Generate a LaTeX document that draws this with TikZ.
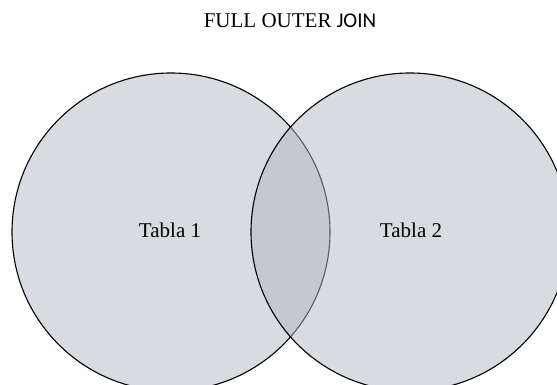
\documentclass[tikz,border=0pt]{standalone}
\usepackage{fontspec}
\setmainfont{Liberation Serif}
\newfontfamily\carlitofont{Carlito}
\definecolor{vennfill}{RGB}{179,185,193}
\tikzset{
  venn/.style={draw=black, line width=1.1pt, fill=vennfill, fill opacity=0.5, draw opacity=1},
  lbl/.style={font=\fontsize{21}{25}\selectfont, anchor=base, inner sep=0pt}
}
\begin{document}
\begin{tikzpicture}[x=1pt,y=1pt]
  \useasboundingbox (0,0) rectangle (557,385);
  \clip (0,0) rectangle (557,385);
  \fill[white] (0,0) rectangle (557,385);
  \path[venn] (171,153) circle[radius=159];
  \path[venn] (410,153) circle[radius=159];
  \node[lbl] (title) at (290,357) {FULL OUTER {\carlitofont JOIN}};
  \node[lbl] (t1) at (170,147) {Tabla 1};
  \node[lbl] (t2) at (411,147) {Tabla 2};
\end{tikzpicture}
\end{document}
